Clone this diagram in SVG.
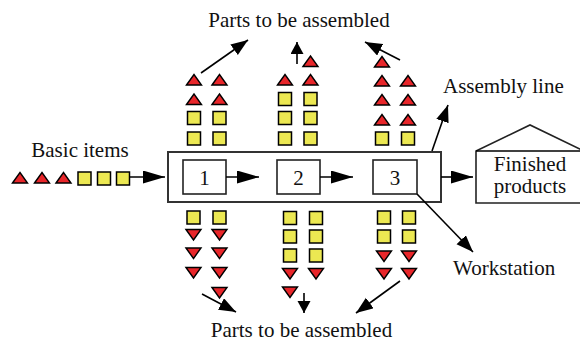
<svg xmlns="http://www.w3.org/2000/svg" xmlns:xlink="http://www.w3.org/1999/xlink" width="580" height="343" viewBox="0 0 580 343">
  <style>
    .lbl { font-family: "Liberation Serif", "Times New Roman", serif; font-size: 21px; fill: #111; }
    .box { fill: #fff; stroke: #222; stroke-width: 1.6; }
    .outer { fill: #fff; stroke: #333; stroke-width: 2; }
    .ln { stroke: #000; stroke-width: 1.6; fill: none; }
    .tri { fill: #e8262a; stroke: #000; stroke-width: 1.4; stroke-linejoin: miter; }
    .sq { fill: #ece852; stroke: #000; stroke-width: 1.5; }
  </style>
  <defs>
    <marker id="big" markerUnits="userSpaceOnUse" markerWidth="24" markerHeight="14" refX="22" refY="6.5" orient="auto">
      <path d="M0,0 L22,6.5 L0,13 Z" fill="#000"/>
    </marker>
    <marker id="mid" markerUnits="userSpaceOnUse" markerWidth="18" markerHeight="14" refX="17" refY="6.5" orient="auto">
      <path d="M0,0 L17,6.5 L0,13 Z" fill="#000"/>
    </marker>
    <marker id="small" markerUnits="userSpaceOnUse" markerWidth="14" markerHeight="14" refX="12" refY="6.5" orient="auto">
      <path d="M0,0 L12,6.5 L0,13 Z" fill="#000"/>
    </marker>
    <path id="up" class="tri" d="M-7.5,5 L0,-5.5 L7.5,5 Z"/>
    <path id="dn" class="tri" d="M-7.5,-5 L0,5.5 L7.5,-5 Z"/>
    <rect id="sq" class="sq" x="-6.5" y="-6.5" width="13" height="13"/>
  </defs>

  <!-- assembly line frame with three workstations -->
  <g id="assembly-line">
    <rect class="outer" x="168" y="152" width="273" height="50"/>
  </g>
  <g id="station-1">
    <rect class="box" x="183" y="160" width="43" height="34"/>
    <text class="lbl" x="204.5" y="185" text-anchor="middle">1</text>
  </g>
  <g id="station-2">
    <rect class="box" x="277" y="160" width="43" height="34"/>
    <text class="lbl" x="298.5" y="185" text-anchor="middle">2</text>
  </g>
  <g id="station-3">
    <rect class="box" x="373" y="160" width="44" height="34"/>
    <text class="lbl" x="395" y="185" text-anchor="middle">3</text>
  </g>

  <!-- finished products store -->
  <g id="finished-products">
    <path class="box" d="M476,203 L476,151 L530,125 L584,151 L584,203 Z" />
    <line class="ln" x1="476" y1="151" x2="584" y2="151"/>
    <text class="lbl" x="530" y="171" text-anchor="middle">Finished</text>
    <text class="lbl" x="530" y="193" text-anchor="middle">products</text>
  </g>

  <!-- incoming basic items -->
  <g id="basic-items">
    <text class="lbl" x="80" y="157" text-anchor="middle">Basic items</text>
    <use xlink:href="#up" x="20" y="178"/>
    <use xlink:href="#up" x="42" y="178"/>
    <use xlink:href="#up" x="63.5" y="178"/>
    <use xlink:href="#sq" x="84.5" y="178.5"/>
    <use xlink:href="#sq" x="104" y="178.5"/>
    <use xlink:href="#sq" x="123" y="178.5"/>
  </g>

  <!-- parts stacked above the line -->
  <g id="parts-top-1">
    <use xlink:href="#up" x="194" y="80"/>
    <use xlink:href="#up" x="219.5" y="80"/>
    <use xlink:href="#up" x="194" y="99.5"/>
    <use xlink:href="#up" x="219.5" y="99.5"/>
    <use xlink:href="#sq" x="194" y="118"/>
    <use xlink:href="#sq" x="219.5" y="118"/>
    <use xlink:href="#sq" x="194" y="138.5"/>
    <use xlink:href="#sq" x="219.5" y="138.5"/>
  </g>
  <g id="parts-top-2">
    <use xlink:href="#up" x="310.5" y="61.5"/>
    <use xlink:href="#up" x="285" y="80"/>
    <use xlink:href="#up" x="310.5" y="80"/>
    <use xlink:href="#sq" x="285" y="99"/>
    <use xlink:href="#sq" x="310.5" y="99"/>
    <use xlink:href="#sq" x="285" y="118"/>
    <use xlink:href="#sq" x="310.5" y="118"/>
    <use xlink:href="#sq" x="285" y="138.5"/>
    <use xlink:href="#sq" x="310.5" y="138.5"/>
  </g>
  <g id="parts-top-3">
    <use xlink:href="#up" x="382" y="62"/>
    <use xlink:href="#up" x="382" y="81"/>
    <use xlink:href="#up" x="408" y="81"/>
    <use xlink:href="#up" x="382" y="100"/>
    <use xlink:href="#up" x="408" y="100"/>
    <use xlink:href="#up" x="382" y="120"/>
    <use xlink:href="#up" x="408" y="120"/>
    <use xlink:href="#sq" x="382" y="138.5"/>
    <use xlink:href="#sq" x="408" y="138.5"/>
  </g>

  <!-- parts stacked below the line -->
  <g id="parts-bottom-1">
    <use xlink:href="#sq" x="193.5" y="217.5"/>
    <use xlink:href="#sq" x="219.5" y="217.5"/>
    <use xlink:href="#dn" x="193.5" y="234.5"/>
    <use xlink:href="#dn" x="219.5" y="234.5"/>
    <use xlink:href="#dn" x="193.5" y="253"/>
    <use xlink:href="#dn" x="219.5" y="253"/>
    <use xlink:href="#dn" x="193.5" y="272.5"/>
    <use xlink:href="#dn" x="219.5" y="272.5"/>
    <use xlink:href="#dn" x="219.5" y="292.5"/>
  </g>
  <g id="parts-bottom-2">
    <use xlink:href="#sq" x="290" y="218"/>
    <use xlink:href="#sq" x="316" y="218"/>
    <use xlink:href="#sq" x="290" y="236.5"/>
    <use xlink:href="#sq" x="316" y="236.5"/>
    <use xlink:href="#sq" x="290" y="255.5"/>
    <use xlink:href="#sq" x="316" y="255.5"/>
    <use xlink:href="#dn" x="290" y="273.5"/>
    <use xlink:href="#dn" x="316" y="273.5"/>
    <use xlink:href="#dn" x="290" y="292"/>
  </g>
  <g id="parts-bottom-3">
    <use xlink:href="#sq" x="384" y="217.5"/>
    <use xlink:href="#sq" x="409" y="217.5"/>
    <use xlink:href="#sq" x="384" y="236.5"/>
    <use xlink:href="#sq" x="409" y="236.5"/>
    <use xlink:href="#dn" x="384" y="256"/>
    <use xlink:href="#dn" x="409" y="256"/>
    <use xlink:href="#dn" x="384" y="273.5"/>
    <use xlink:href="#dn" x="409" y="273.5"/>
  </g>

  <!-- labels -->
  <g id="labels">
    <text class="lbl" x="299" y="27" text-anchor="middle">Parts to be assembled</text>
    <text class="lbl" x="301.5" y="337" text-anchor="middle">Parts to be assembled</text>
    <text class="lbl" x="443" y="93">Assembly line</text>
    <text class="lbl" x="453" y="275">Workstation</text>
  </g>

  <!-- flow arrows and pointers -->
  <g id="connectors">
    <line class="ln" x1="130" y1="177" x2="165" y2="177" marker-end="url(#big)"/>
    <line class="ln" x1="226" y1="177" x2="259" y2="177" marker-end="url(#big)"/>
    <line class="ln" x1="320" y1="177" x2="353" y2="177" marker-end="url(#big)"/>
    <line class="ln" x1="441" y1="177" x2="473" y2="177" marker-end="url(#big)"/>

    <line class="ln" x1="201" y1="73" x2="248" y2="40" marker-end="url(#mid)"/>
    <line class="ln" x1="297" y1="64" x2="297" y2="42" marker-end="url(#small)"/>
    <line class="ln" x1="400" y1="60" x2="365" y2="42" marker-end="url(#mid)"/>

    <line class="ln" x1="202" y1="294" x2="236" y2="312" marker-end="url(#mid)"/>
    <line class="ln" x1="304" y1="293" x2="304" y2="313" marker-end="url(#small)"/>
    <line class="ln" x1="400" y1="281" x2="356" y2="313" marker-end="url(#mid)"/>

    <line class="ln" x1="432" y1="151" x2="448" y2="105" marker-end="url(#mid)"/>
    <line class="ln" x1="417" y1="194" x2="473" y2="252" marker-end="url(#mid)"/>
  </g>
</svg>
